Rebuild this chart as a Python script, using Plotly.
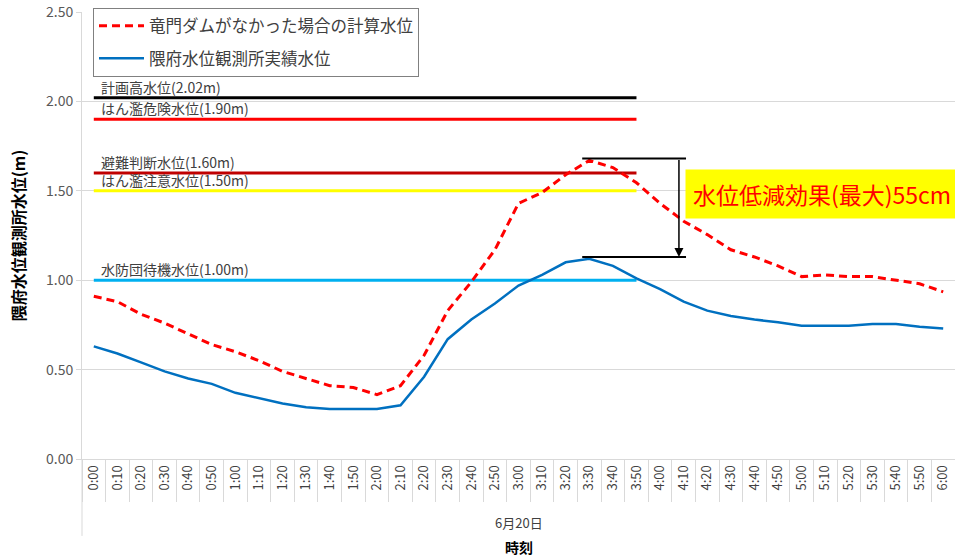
import plotly.graph_objects as go

# ---------------- data ----------------
time_labels = ["0:00", "0:10", "0:20", "0:30", "0:40", "0:50",
               "1:00", "1:10", "1:20", "1:30", "1:40", "1:50",
               "2:00", "2:10", "2:20", "2:30", "2:40", "2:50",
               "3:00", "3:10", "3:20", "3:30", "3:40", "3:50",
               "4:00", "4:10", "4:20", "4:30", "4:40", "4:50",
               "5:00", "5:10", "5:20", "5:30", "5:40", "5:50",
               "6:00"]

no_dam_level = [0.91, 0.88, 0.81, 0.76, 0.70, 0.64,
                0.60, 0.55, 0.49, 0.45, 0.41, 0.40,
                0.36, 0.41, 0.58, 0.83, 0.99, 1.17,
                1.43, 1.49, 1.59, 1.67, 1.63, 1.545,
                1.43, 1.33, 1.255, 1.17, 1.13, 1.08,
                1.02, 1.03, 1.02, 1.02, 1.00, 0.98,
                0.935]

actual_level = [0.63, 0.59, 0.54, 0.49, 0.45, 0.42,
                0.37, 0.34, 0.31, 0.29, 0.28, 0.28,
                0.28, 0.30, 0.46, 0.67, 0.78, 0.87,
                0.97, 1.03, 1.10, 1.12, 1.08, 1.01,
                0.95, 0.88, 0.83, 0.80, 0.78, 0.765,
                0.745, 0.745, 0.745, 0.755, 0.755, 0.74,
                0.73]

series_names = ["竜門ダムがなかった場合の計算水位", "隈府水位観測所実績水位"]

thr_names = ["計画高水位", "はん濫危険水位", "避難判断水位", "はん濫注意水位", "水防団待機水位"]
thr_values = [2.02, 1.90, 1.60, 1.50, 1.00]
thr_colors = ["#000000", "#ff0000", "#c00000", "#ffff00", "#00b0f0"]
thr_end_label = "3:50"

effect_text = "水位低減効果(最大)55cm"
date_label = "6月20日"
x_title = "時刻"
y_title = "隈府水位観測所水位(m)"

FONT = "Noto Sans CJK JP"
GRID = "#d9d9d9"
TXT = "#404040"

fig = go.Figure()

# threshold lines
for name, val, col in zip(thr_names, thr_values, thr_colors):
    fig.add_trace(go.Scatter(
        x=[time_labels[0], thr_end_label], y=[val, val], mode="lines",
        line=dict(color=col, width=3), showlegend=False, hoverinfo="skip"))
    fig.add_annotation(
        x=0, y=val, xref="x", yref="y", text=f"{name}({val:.2f}m)",
        showarrow=False, xanchor="left", yanchor="bottom", xshift=5, yshift=-1,
        font=dict(family=FONT, size=14, color=TXT))

# series
fig.add_trace(go.Scatter(
    x=time_labels, y=no_dam_level, mode="lines", name=series_names[0],
    line=dict(color="#ff0000", width=3, dash="8px,5px"), legendgroup="a"))
fig.add_trace(go.Scatter(
    x=time_labels, y=actual_level, mode="lines", name=series_names[1],
    line=dict(color="#0070c0", width=2.5), legendgroup="b"))

# reduction effect markers
i_peak = no_dam_level.index(max(no_dam_level))
top_y = max(no_dam_level) + 0.01
bot_y = max(actual_level) + 0.01
for yv in (top_y, bot_y):
    fig.add_shape(type="line", xref="x", yref="y", x0=i_peak - 0.3, x1=i_peak + 4.1,
                  y0=yv, y1=yv, line=dict(color="#000000", width=2))
fig.add_annotation(x=i_peak + 3.8, y=bot_y, ax=i_peak + 3.8, ay=top_y,
                   xref="x", yref="y", axref="x", ayref="y", text="",
                   showarrow=True, arrowhead=2, arrowsize=1.2, arrowwidth=1.5,
                   arrowcolor="#000000")
fig.add_annotation(x=i_peak + 4.05, y=1.48, xref="x", yref="y", text=effect_text,
                   showarrow=False, xanchor="left", yanchor="middle",
                   bgcolor="#ffff00", borderpad=7,
                   font=dict(family=FONT, size=23, color="#ff0000"))

# category group label and axis title
fig.add_annotation(x=0.5, y=0, xref="paper", yref="paper", text=date_label,
                   showarrow=False, yanchor="middle", yshift=-63,
                   font=dict(family=FONT, size=13, color=TXT))
fig.add_annotation(x=0.5, y=0, xref="paper", yref="paper", text=f"<b>{x_title}</b>",
                   showarrow=False, yanchor="middle", yshift=-88,
                   font=dict(family=FONT, size=14, color="#000000"))

# left frame line continuing below the axis
fig.add_shape(type="line", xref="paper", yref="paper", x0=0, x1=0,
              y0=0, y1=-0.172, line=dict(color=GRID, width=1))

fig.update_layout(
    width=955, height=556,
    margin=dict(l=82, r=0, t=12, b=97),
    paper_bgcolor="#ffffff", plot_bgcolor="#ffffff",
    font=dict(family=FONT, color=TXT),
    legend=dict(x=0.0126, y=1.01, xanchor="left", yanchor="top",
                bgcolor="#ffffff", bordercolor="#808080", borderwidth=1,
                font=dict(family=FONT, size=16.5, color=TXT),
                itemwidth=45, tracegroupgap=8),
    xaxis=dict(type="category", categoryorder="array", categoryarray=time_labels,
               range=[-0.5, 36.5], tickangle=-90,
               tickson="boundaries", ticks="outside", ticklen=42, tickcolor=GRID,
               showline=True, linecolor=GRID, showgrid=False, automargin=False,
               tickfont=dict(family=FONT, size=13, color=TXT)),
    yaxis=dict(range=[0, 2.5], dtick=0.5, tickformat=".2f",
               showgrid=True, gridcolor=GRID, zeroline=False,
               ticks="outside", ticklen=5, tickcolor=GRID,
               showline=True, linecolor=GRID, automargin=False,
               tickfont=dict(family=FONT, size=14, color="#595959"),
               title=dict(text=f"<b>{y_title}</b>", standoff=16,
                          font=dict(family=FONT, size=16, color="#000000"))),
)

fig.write_html("out.html", config={"displayModeBar": False},
               post_script="document.body.style.margin='0';document.body.style.overflow='hidden';")
